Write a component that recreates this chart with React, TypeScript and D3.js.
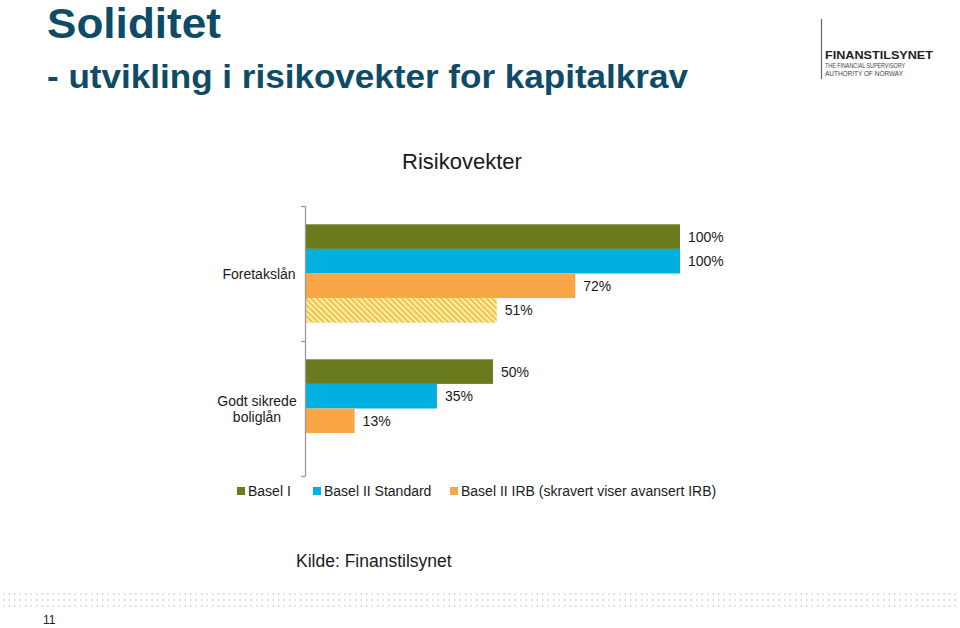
import React from "react";
import * as d3 from "d3";

const categories = ["Foretakslån", "Godt sikrede boliglån"];
const seriesNames = ["Basel I", "Basel II Standard", "Basel II IRB", "Avansert IRB"];
const baselI = [100, 50];
const baselIIStandard = [100, 35];
const baselIIIRB = [72, 13];
const avansertIRB: (number | null)[] = [51, null];
const legendLabels = ["Basel I", "Basel II Standard", "Basel II IRB (skravert viser avansert IRB)"];

const seriesValues = [baselI, baselIIStandard, baselIIIRB, avansertIRB];
const colors = ["#6A7B1E", "#00B0E0", "#F9A746", "url(#hatch)"];
const legendColors = ["#6A7B1E", "#00B0E0", "#F9A746"];

const W = 960;
const H = 628;
const FONT = "'Liberation Sans', Arial, Helvetica, sans-serif";
const TITLE_COLOR = "#0E4B67";

export default function App() {
  const x = d3.scaleLinear().domain([0, 100]).range([306, 680]);
  const yCat = d3.scaleBand<string>().domain(categories).range([206, 476]).padding(0);
  const step = yCat.bandwidth();
  const ySer = d3.scaleBand<string>().domain(seriesNames).range([18.3, step - 18.3]).padding(0);
  const bh = ySer.bandwidth();

  const bars: { key: string; x0: number; x1: number; y: number; fill: string; label: string }[] = [];
  categories.forEach((c, ci) => {
    seriesNames.forEach((s, si) => {
      const v = seriesValues[si][ci];
      if (v == null) return;
      bars.push({
        key: c + s,
        x0: x(0),
        x1: x(v),
        y: (yCat(c) as number) + (ySer(s) as number),
        fill: colors[si],
        label: `${v}%`,
      });
    });
  });

  const legendX = [237, 313, 450];
  const dotRows = [594, 600, 606];

  return (
    <svg width={W} height={H} style={{ position: "absolute", left: 0, top: 0, background: "#fff" }} fontFamily={FONT}>
      <defs>
        <pattern id="hatch" width="4" height="4" patternUnits="userSpaceOnUse" patternTransform="rotate(-45)">
          <rect width="4" height="4" fill="#FCEDB0" />
          <rect width="2" height="4" fill="#EFC443" />
        </pattern>
      </defs>

      {/* Title */}
      <text x={47} y={38} fontSize={42} fontWeight="bold" fill={TITLE_COLOR} textLength={174} lengthAdjust="spacingAndGlyphs">Soliditet</text>
      <text x={47} y={88} fontSize={34} fontWeight="bold" fill={TITLE_COLOR} textLength={641} lengthAdjust="spacingAndGlyphs">
        - utvikling i risikovekter for kapitalkrav
      </text>

      {/* Logo */}
      <line x1={821.5} x2={821.5} y1={19} y2={79} stroke="#666" strokeWidth={1.2} />
      <text x={825} y={59} fontSize={11.5} fontWeight="bold" fill="#222" textLength={108} lengthAdjust="spacingAndGlyphs">FINANSTILSYNET</text>
      <text x={825} y={67.5} fontSize={7.5} fill="#444" textLength={80} lengthAdjust="spacingAndGlyphs">THE FINANCIAL SUPERVISORY</text>
      <text x={825} y={75.5} fontSize={7.5} fill="#444" textLength={78} lengthAdjust="spacingAndGlyphs">AUTHORITY OF NORWAY</text>

      {/* Chart title */}
      <text x={462} y={169} fontSize={22} textAnchor="middle" fill="#1a1a1a">Risikovekter</text>

      {/* Bars */}
      {bars.map((b) => (
        <g key={b.key}>
          <rect x={b.x0} y={b.y} width={b.x1 - b.x0} height={bh} fill={b.fill} />
          <text x={b.x1 + 8} y={b.y + bh / 2 + 5} fontSize={14} fill="#1a1a1a">{b.label}</text>
        </g>
      ))}

      {/* Axis */}
      <line x1={305.5} x2={305.5} y1={206} y2={476} stroke="#9a9a9a" strokeWidth={1.3} />
      {[...categories.map((c) => yCat(c) as number), 476].map((t, i) => (
        <line key={i} x1={301} x2={305.5} y1={t + 0.5} y2={t + 0.5} stroke="#9a9a9a" strokeWidth={1.3} />
      ))}

      {/* Category labels */}
      <text x={259} y={(yCat(categories[0]) as number) + step / 2 + 5} fontSize={14} textAnchor="middle" fill="#1a1a1a">
        {categories[0]}
      </text>
      <text x={257} y={(yCat(categories[1]) as number) + step / 2 - 3} fontSize={14} textAnchor="middle" fill="#1a1a1a">
        <tspan x={257} dy={0}>Godt sikrede</tspan>
        <tspan x={257} dy={16}>boliglån</tspan>
      </text>

      {/* Legend */}
      {legendLabels.map((l, i) => (
        <g key={l}>
          <rect x={legendX[i]} y={487} width={8} height={8} fill={legendColors[i]} />
          <text x={legendX[i] + 11} y={496} fontSize={14} fill="#1a1a1a">{l}</text>
        </g>
      ))}

      {/* Source */}
      <text x={296} y={567} fontSize={17.5} fill="#1a1a1a">Kilde: Finanstilsynet</text>

      {/* Dotted decoration */}
      {dotRows.map((yy) => (
        <line key={yy} x1={3} x2={958} y1={yy} y2={yy} stroke="#C6CFD7" strokeWidth={1.5} strokeDasharray="1.5,4" />
      ))}

      {/* Page number */}
      <text x={43} y={624} fontSize={12} fill="#1a1a1a">11</text>
    </svg>
  );
}
